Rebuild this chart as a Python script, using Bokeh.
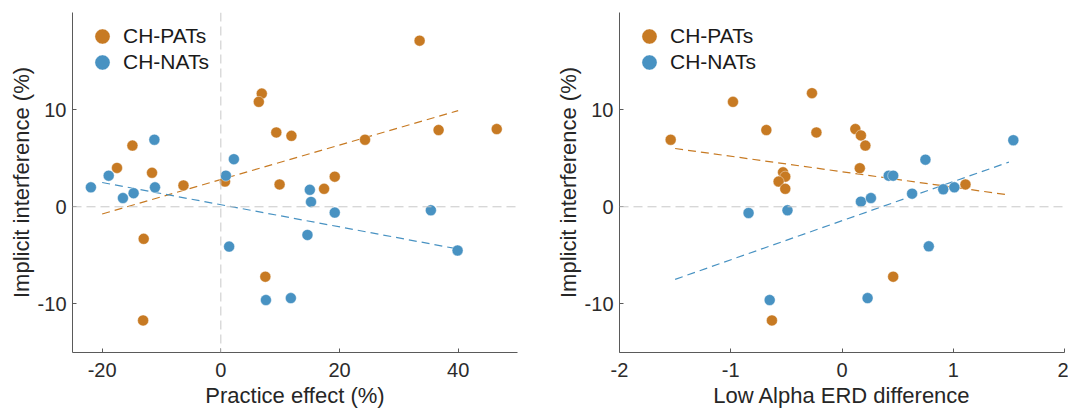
from bokeh.plotting import figure
from bokeh.models import Span, Legend, LegendItem, FixedTicker, Range1d, CustomJSTickFormatter
from bokeh.layouts import row
from bokeh.embed import file_html
from bokeh.resources import INLINE

# ---------------- data ----------------
# Left panel: Practice effect (%) vs Implicit interference (%)
pats_practice = [33.5, 6.9, 6.4, 9.35, 11.9, 24.3, 36.7, 46.5, -14.9, -17.5,
                 -11.6, -6.3, 0.7, 9.9, 17.4, 19.2, -13.0, 7.5, -13.1]
pats_interf_l = [17.1, 11.65, 10.8, 7.65, 7.3, 6.9, 7.9, 8.0, 6.3, 4.0,
                 3.5, 2.2, 2.6, 2.3, 1.85, 3.1, -3.3, -7.2, -11.7]
nats_practice = [-21.9, -18.9, -16.5, -14.7, -11.2, -11.1, 0.85, 2.2, 1.4, 7.6,
                 11.8, 15.0, 15.2, 19.2, 14.6, 35.4, 39.9]
nats_interf_l = [2.0, 3.2, 0.9, 1.4, 6.9, 2.0, 3.2, 4.9, -4.1, -9.6,
                 -9.4, 1.75, 0.5, -0.6, -2.9, -0.36, -4.5]

# Right panel: Low Alpha ERD difference vs Implicit interference (%)
pats_erd = [-1.54, -0.98, -0.27, -0.68, -0.23, -0.53, -0.51, -0.57, -0.51, -0.63,
            0.12, 0.17, 0.21, 0.16, 1.11, 0.46]
pats_interf_r = [6.9, 10.8, 11.7, 7.9, 7.65, 3.55, 3.1, 2.6, 1.85, -11.7,
                 8.0, 7.35, 6.3, 3.97, 2.3, -7.2]
nats_erd = [-0.84, -0.49, -0.65, 1.54, 0.75, 0.42, 0.46, 0.63, 0.91, 1.01,
            0.17, 0.26, 0.78, 0.23]
nats_interf_r = [-0.64, -0.36, -9.6, 6.85, 4.85, 3.2, 3.2, 1.35, 1.8, 2.0,
                 0.53, 0.9, -4.07, -9.4]

# Fit lines (end points)
fit_x_left = [-20, 40]
pats_fit_left = [-0.74, 9.9]
nats_fit_left = [2.5, -4.35]
fit_x_right = [-1.5, 1.5]
pats_fit_right = [6.0, 1.22]
nats_fit_right = [-7.47, 4.6]

# Axes / labels
y_ticks = [-10, 0, 10]
x_ticks_left = [-20, 0, 20, 40]
x_ticks_right = [-2, -1, 0, 1, 2]
series_names = ["CH-PATs", "CH-NATs"]

# ---------------- style ----------------
ORANGE = "#C77A23"
BLUE = "#4892C2"
FONT = "Liberation Sans"
AXIS_COLOR = "#5a5a5a"
TEXT_COLOR = "#2b2b2b"
ZERO_COLOR = "#C8C8C8"


def make_fig(width, border_right, xr, xticks, xlabel, zero_v):
    p = figure(width=width, height=410, x_range=Range1d(*xr), y_range=Range1d(-15, 20),
               output_backend="svg", toolbar_location=None,
               min_border_left=72, min_border_right=border_right,
               min_border_top=12, min_border_bottom=58)
    p.outline_line_color = None
    p.xgrid.visible = False
    p.ygrid.visible = False
    p.background_fill_color = "white"
    p.border_fill_color = "white"

    fmt = "return String(tick);"
    p.xaxis.ticker = FixedTicker(ticks=xticks)
    p.yaxis.ticker = FixedTicker(ticks=y_ticks)
    p.xaxis.formatter = CustomJSTickFormatter(code=fmt)
    p.yaxis.formatter = CustomJSTickFormatter(code=fmt)
    p.xaxis.axis_label = xlabel
    p.yaxis.axis_label = "Implicit interference (%)"
    for ax in (p.xaxis[0], p.yaxis[0]):
        ax.axis_line_color = AXIS_COLOR
        ax.axis_line_width = 1
        ax.major_tick_line_color = AXIS_COLOR
        ax.major_tick_in = 4
        ax.major_tick_out = 0
        ax.minor_tick_line_color = None
        ax.major_label_text_font = FONT
        ax.major_label_text_font_size = "20px"
        ax.major_label_text_color = TEXT_COLOR
        ax.axis_label_text_font = FONT
        ax.axis_label_text_font_size = "22px"
        ax.axis_label_text_font_style = "normal"
        ax.axis_label_text_color = "#262626"
    p.xaxis.major_label_standoff = 10
    p.xaxis.axis_label_standoff = 3
    p.yaxis.major_label_standoff = 6
    p.yaxis.axis_label_standoff = 1

    p.add_layout(Span(location=0, dimension="width", line_color=ZERO_COLOR,
                      line_dash="9 5", line_width=1))
    if zero_v:
        p.add_layout(Span(location=0, dimension="height", line_color=ZERO_COLOR,
                          line_dash="9 5", line_width=1))
    return p


def add_series(p, fx, f_pat, f_nat, xp, yp, xn, yn):
    p.line(fx, f_pat, line_color=ORANGE, line_width=1.2, line_dash="8 5")
    p.line(fx, f_nat, line_color=BLUE, line_width=1.2, line_dash="8 5")
    r_pat = p.scatter(x=xp, y=yp, size=11, fill_color=ORANGE, line_color="white",
                      line_width=0.6, line_alpha=0.7)
    r_nat = p.scatter(x=xn, y=yn, size=11, fill_color=BLUE, line_color="white",
                      line_width=0.6, line_alpha=0.7)
    for name, r, vy in ((series_names[0], r_pat, 297), (series_names[1], r_nat, 271)):
        lg = Legend(items=[LegendItem(label=name, renderers=[r])], location=(11, vy),
                    glyph_width=38, glyph_height=38, label_standoff=2,
                    margin=0, padding=0, spacing=0,
                    label_text_font=FONT, label_text_font_size="21px",
                    label_text_color="#1a1a1a",
                    border_line_alpha=0, background_fill_alpha=0)
        p.add_layout(lg)


p1 = make_fig(547, 30, (-25, 50), x_ticks_left, "Practice effect (%)", True)
add_series(p1, fit_x_left, pats_fit_left, nats_fit_left,
           pats_practice, pats_interf_l, nats_practice, nats_interf_l)

p2 = make_fig(521, 4, (-2, 2), x_ticks_right, "Low Alpha ERD difference", False)
add_series(p2, fit_x_right, pats_fit_right, nats_fit_right,
           pats_erd, pats_interf_r, nats_erd, nats_interf_r)

layout = row(p1, p2)
open("out.html", "w").write(file_html(layout, INLINE))
